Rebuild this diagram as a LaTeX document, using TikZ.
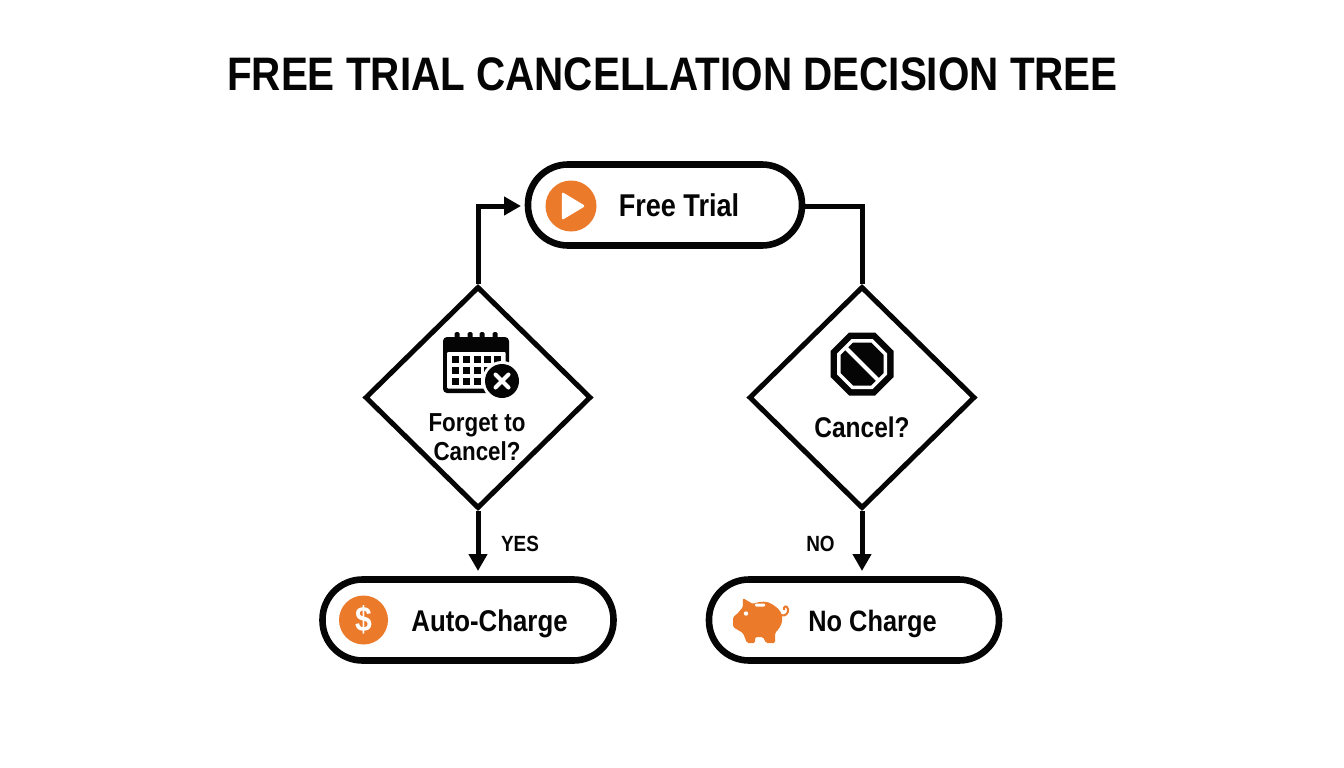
\documentclass[tikz,border=0pt]{standalone}
\usepackage{fontspec}
\setmainfont{Liberation Sans}[BoldFeatures={FakeStretch=0.86}]
\usetikzlibrary{arrows.meta,shapes.geometric}
\definecolor{accent}{HTML}{EC7A2B}
\definecolor{ink}{HTML}{050505}
\tikzset{
  pill/.style={draw=ink,line width=6.6pt,rounded corners=40pt,fill=white,inner sep=0pt,minimum height=81pt},
  choice/.style={draw=ink,line width=5pt,shape=diamond,fill=white,inner sep=0pt,minimum width=226pt,minimum height=222pt},
  link/.style={draw=ink,line width=5pt},
  flow/.style={link,-{Triangle[length=17pt,width=18pt]}},
  label/.style={font=\bfseries\fontsize{30}{34}\selectfont,text=ink,inner sep=0pt},
  small/.style={font=\bfseries\fontsize{26}{29}\selectfont,text=ink,inner sep=0pt,align=center},
  tag/.style={font=\bfseries\fontsize{22}{24}\selectfont,text=ink,inner sep=0pt},
  badge/.style={fill=accent,draw=none}
}
\begin{document}
\begin{tikzpicture}[x=1pt,y=-1pt]
\useasboundingbox (0,0) rectangle (1344,768);
\fill[white] (0,0) rectangle (1344,768);

\node[font=\bfseries\fontsize{47}{54}\selectfont,text=ink,inner sep=0pt] (title) at (672.5,74.5) {FREE TRIAL CANCELLATION DECISION TREE};

% shapes
\node[pill,minimum width=274pt] (trial) at (665,205) {};
\node[pill,minimum width=291pt] (charge) at (468,620) {};
\node[pill,minimum width=290pt] (nocharge) at (854,620) {};
\node[choice] (forget) at (478,397.5) {};
\node[choice] (cancel) at (862,397.5) {};

% connectors
\coordinate (trialIn) at (521,206);
\coordinate (trialOut) at (805,206);
\coordinate (chargeIn) at (478,571);
\coordinate (nochargeIn) at (862,571);
\draw[flow] (forget.north) |- (trialIn);
\draw[link] (trialOut) -| (cancel.north);
\draw[flow] (forget.south) -- (chargeIn);
\draw[flow] (cancel.south) -- (nochargeIn);

% labels
\node[label,font=\bfseries\fontsize{31.5}{34}\selectfont] (trialText) at (679,205.5) {Free Trial};
\node[label] (chargeText) at (489.5,624) {Auto-Charge};
\node[label,font=\bfseries\fontsize{29.5}{34}\selectfont] (nochargeText) at (872.5,624) {No Charge};
\node[small] (forgetText) at (477,437) {Forget to\\[0pt]Cancel?};
\node[label,font=\bfseries\fontsize{28.5}{31}\selectfont] (cancelText) at (862,427) {Cancel?};
\node[tag] (yes) at (520,543.5) {YES};
\node[tag] (no) at (820.5,543.5) {NO};

% play icon
\fill[badge] (571,206) circle (25.5);
\fill[white,draw=white,line width=2.5pt,line join=round] (563,194) -- (583,206) -- (563,218) -- cycle;

% dollar icon
\fill[badge] (363.5,620) circle (24.5);
\node[font=\bfseries\fontsize{35}{36}\selectfont,text=white,inner sep=0pt] (dollar) at (363.5,620) {\$};

% piggy icon
\fill[accent,rounded corners=1.5pt] (742.7,598) -- (753,604)
  .. controls (760,601) and (768,601) .. (773,605)
  .. controls (780,609) and (783,615) .. (782,621)
  .. controls (781,626) and (778,630) .. (775,633)
  -- (775,643) -- (766,643) -- (763,637) -- (755,637) -- (755,643) -- (747,643) -- (743,633)
  -- (738,630) -- (733,627) -- (733,617) -- (737,614) -- (743,607) -- cycle;
\draw[accent,line width=2pt] (781,615) .. controls (785,617) and (789,613) .. (788,609) .. controls (787,605) and (783,606) .. (784,610);
\fill[white] (746,613.5) circle (2.2);
\fill[white,rounded corners=1pt] (755,603.5) rectangle (765,606.5);

% calendar icon
\fill[ink,rounded corners=4pt] (443,337) rectangle (509,393);
\foreach \cx in {457,470,482,495}{\fill[ink,rounded corners=1.5pt] (\cx-2.5,332) rectangle (\cx+2.5,345);}
\fill[white,rounded corners=1pt] (447,352) rectangle (505.5,388.5);
\foreach \cx in {452,463,473.5,484,494}{
  \foreach \cy in {356,367,377.5}{\fill[ink] (\cx,\cy) rectangle +(7,7);}
}
\fill[white] (502,381) circle (20);
\fill[ink] (502,381) circle (17);
\draw[white,line width=4pt,line cap=round] (495.5,374.5) -- (508.5,387.5) (508.5,374.5) -- (495.5,387.5);

% stop icon
\fill[ink] (849,332.5) -- (875,332.5) -- (893.5,351) -- (893.5,377) -- (875,395.5) -- (849,395.5) -- (830.5,377) -- (830.5,351) -- cycle;
\fill[white] (851.5,339) -- (872.5,339) -- (887,353.5) -- (887,374.5) -- (872.5,389) -- (851.5,389) -- (837,374.5) -- (837,353.5) -- cycle;
\fill[ink] (853,342.5) -- (871,342.5) -- (883.5,355) -- (883.5,373) -- (871,385.5) -- (853,385.5) -- (840.5,373) -- (840.5,355) -- cycle;
\draw[white,line width=4pt] (845.5,347.5) -- (878.5,380.5);
\end{tikzpicture}
\end{document}
